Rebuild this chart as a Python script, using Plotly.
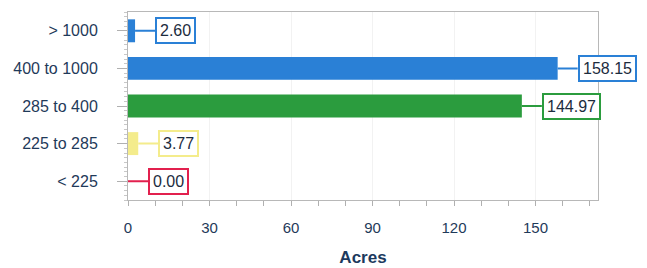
import plotly.graph_objects as go

# Data (bottom to top)
categories = ["< 225", "225 to 285", "285 to 400", "400 to 1000", "> 1000"]
values = [0.00, 3.77, 144.97, 158.15, 2.60]
colors = ["#e2204e", "#f4ec8c", "#2b9c3e", "#2a80d6", "#2a80d6"]
x_tick_vals = [0, 30, 60, 90, 120, 150]
x_title = "Acres"

positions = list(range(len(categories)))

fig = go.Figure()
fig.add_trace(go.Bar(
    x=values, y=positions, orientation="h",
    marker=dict(color=colors, line=dict(width=0)),
    width=0.61, hoverinfo="x+y",
))

for i, (v, c) in enumerate(zip(values, colors)):
    fig.add_annotation(
        x=v, y=positions[i], xref="x", yref="y",
        text=f"{v:.2f}", showarrow=True, arrowhead=0, arrowwidth=2,
        arrowcolor=c, ax=20, ay=0, xanchor="left",
        bordercolor=c, borderwidth=2, borderpad=3, bgcolor="white",
        font=dict(family="Liberation Sans, Arial", size=16, color="#1c2c3e"),
    )

# page body has an 8px margin, so the figure is shrunk and offset accordingly
fig.update_layout(
    width=639, height=260,
    margin=dict(l=120, r=49, t=4, b=68),
    paper_bgcolor="white", plot_bgcolor="white",
    showlegend=False,
    font=dict(family="Liberation Sans, Arial", size=15, color="#1f3a5a"),
)
fig.update_xaxes(
    automargin=False,
    range=[0, 173], tickvals=x_tick_vals,
    ticks="outside", ticklen=5, tickcolor="#b0b0b0",
    minor=dict(dtick=10, tick0=0, ticks="outside", ticklen=5, tickcolor="#b0b0b0", showgrid=False),
    showgrid=True, gridcolor="#f2f2f2", zeroline=False,
    showline=True, linecolor="#b8b8b8", linewidth=1, mirror=True,
    ticklabelstandoff=9,
    tickfont=dict(size=15, color="#1f3a5a"),
    title=dict(text=f"<b>{x_title}</b>", font=dict(size=17, color="#1c3a5e"), standoff=16),
)
fig.update_yaxes(
    automargin=False,
    range=[-0.5, len(categories) - 0.5], tickvals=positions, ticktext=categories,
    ticks="outside", ticklen=10, tickcolor="#b0b0b0",
    minor=dict(dtick=0.125, tick0=-0.5, ticks="outside", ticklen=3, tickcolor="#c8c8c8", showgrid=False),
    showgrid=False, zeroline=False,
    showline=True, linecolor="#b8b8b8", linewidth=1, mirror=True,
    ticklabelstandoff=16,
    tickfont=dict(size=16, color="#1f3a5a"),
)

fig.write_html("out.html")
